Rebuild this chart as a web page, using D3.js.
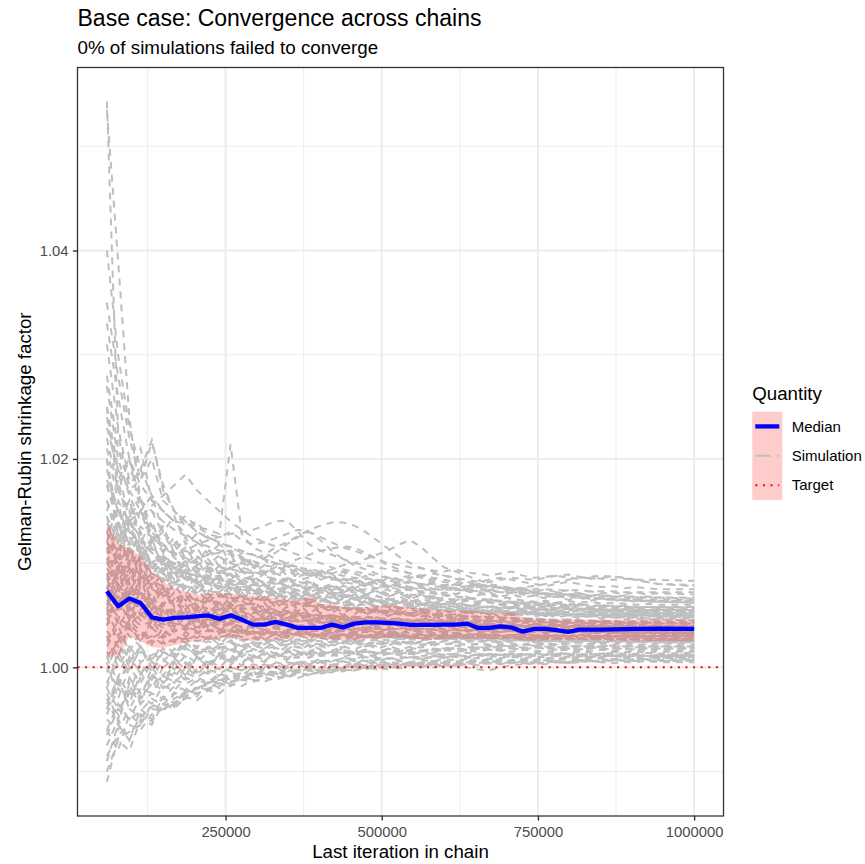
<!DOCTYPE html>
<html>
<head>
<meta charset="utf-8">
<title>Base case: Convergence across chains</title>
<script src="https://cdn.jsdelivr.net/npm/d3@7"></script>
<style>
  body { margin: 0; background: #fff; }
  svg text { font-family: "Liberation Sans", Arial, Helvetica, sans-serif; }
</style>
</head>
<body>
<script>
// last iteration of each bin
const iterations = [60000, 78000, 96000, 114000, 132000, 150000, 168000, 186000, 204000, 222000,
  240000, 258000, 276000, 294000, 312000, 330000, 348000, 366000, 384000, 402000,
  420000, 438000, 456000, 474000, 492000, 510000, 528000, 546000, 564000, 582000,
  600000, 618000, 636000, 654000, 672000, 690000, 708000, 726000, 744000, 762000,
  780000, 798000, 816000, 834000, 852000, 870000, 888000, 906000, 924000, 942000, 1000000];

const medianValues = [1.00730, 1.00586, 1.00660, 1.00618, 1.00480, 1.00458, 1.00474, 1.00480, 1.00490, 1.00499,
  1.00465, 1.00499, 1.00458, 1.00410, 1.00410, 1.00436, 1.00410, 1.00378, 1.00378, 1.00378,
  1.00410, 1.00384, 1.00420, 1.00432, 1.00432, 1.00426, 1.00420, 1.00407, 1.00407, 1.00407,
  1.00410, 1.00410, 1.00420, 1.00378, 1.00378, 1.00394, 1.00381, 1.00343, 1.00369, 1.00369,
  1.00357, 1.00340, 1.00362, 1.00362, 1.00362, 1.00364, 1.00367, 1.00369, 1.00370, 1.00372, 1.00369];

const bandLower = [1.00117, 1.00090, 1.00298, 1.00250, 1.00194, 1.00186, 1.00213, 1.00237, 1.00252, 1.00266,
  1.00280, 1.00295, 1.00266, 1.00250, 1.00261, 1.00266, 1.00276, 1.00290, 1.00285, 1.00271,
  1.00266, 1.00266, 1.00261, 1.00271, 1.00276, 1.00280, 1.00290, 1.00276, 1.00266, 1.00269,
  1.00271, 1.00276, 1.00276, 1.00276, 1.00273, 1.00273, 1.00271, 1.00261, 1.00256, 1.00261,
  1.00266, 1.00266, 1.00266, 1.00261, 1.00261, 1.00256, 1.00256, 1.00256, 1.00252, 1.00252, 1.00250];

const bandUpper = [1.01394, 1.01194, 1.01139, 1.01072, 1.00919, 1.00823, 1.00756, 1.00727, 1.00693, 1.00708,
  1.00712, 1.00708, 1.00693, 1.00684, 1.00682, 1.00669, 1.00650, 1.00631, 1.00693, 1.00612,
  1.00602, 1.00583, 1.00573, 1.00578, 1.00586, 1.00597, 1.00592, 1.00570, 1.00564, 1.00554,
  1.00544, 1.00538, 1.00547, 1.00535, 1.00520, 1.00520, 1.00528, 1.00482, 1.00468, 1.00463,
  1.00458, 1.00458, 1.00458, 1.00458, 1.00458, 1.00458, 1.00458, 1.00458, 1.00458, 1.00458, 1.00458];

// simulated chains: shrinkage factor minus 1, in units of 1e-4
const sim01 = [543,224,170,150,128,110,96,88,80,74, 70,66,62,60,58,55,54,52,50,49, 50,48,46,47,45,44,46,45,44,43, 44,43,42,41,42,41,40,41,40,39, 40,39,40,39,38,39,38,38,39,38,38];
const sim02 = [535,390,240,160,135,118,105,98,92,88, 84,80,78,74,72,70,66,64,62,60, 58,57,55,54,53,52,51,50,49,50, 49,48,49,48,47,46,47,46,45,46, 45,44,45,44,44,43,44,43,43,44,43];
const sim03 = [400,300,230,190,218,170,150,135,140,125, 118,110,104,98,92,90,86,82,80,78, 76,74,72,70,68,66,64,65,63,62, 60,61,59,58,57,58,56,55,56,55, 54,55,54,53,54,53,52,53,52,52,52];
const sim04 = [330,260,200,175,160,150,140,145,135,128, 125,130,122,118,120,124,128,132,130,125, 120,115,112,108,104,100,98,96,95,93, 92,94,91,90,88,90,92,88,86,87, 88,86,85,86,85,84,85,84,84,84,83];
const sim05 = [280,210,175,190,165,150,140,138,135,132, 128,214,128,115,110,104,100,96,92,90, 86,84,82,80,78,77,75,74,72,71, 70,68,67,66,65,64,63,62,62,61, 60,60,59,58,58,57,57,56,56,55,55];
const sim06 = [250,190,170,180,216,175,150,140,130,125, 120,115,110,108,104,100,97,94,90,88, 85,82,80,78,76,74,72,70,69,67, 66,65,64,63,62,61,60,59,58,58, 57,56,56,55,55,54,54,53,53,52,52];
const sim07 = [220,170,150,145,155,165,175,185,170,160, 150,140,132,125,120,116,112,108,104,100, 96,92,90,86,83,80,78,75,73,71, 69,68,66,65,64,63,62,61,60,59, 58,58,57,56,56,55,55,54,54,54,53];
const sim08 = [190,150,130,120,110,105,100,98,95,93, 92,95,100,104,108,115,120,126,132,136, 139,139,136,130,122,114,106,100,95,92, 88,85,82,80,78,76,74,72,71,70, 69,68,67,66,66,65,64,64,63,63,62];
const sim09 = [175,140,120,135,125,115,108,112,118,122, 125,128,130,132,136,140,141,130,118,112, 108,104,100,98,96,94,92,90,88,86, 84,82,80,79,78,76,75,74,72,71, 70,70,69,68,68,67,67,66,66,65,65];
const sim10 = [160,130,115,105,100,95,92,90,88,86, 84,82,80,79,78,80,82,84,86,90, 94,98,100,104,108,112,118,122,115,105, 96,92,88,84,80,78,76,74,72,71, 70,69,68,67,66,66,65,65,64,64,64];
const sim11 = [145,120,135,115,100,108,95,90,98,94, 90,95,100,96,105,110,118,125,130,122, 112,104,98,94,90,86,84,82,80,78, 77,76,78,80,82,84,86,85,84,86, 88,89,87,85,86,87,86,84,82,80,79];
const sim12 = [210,160,140,150,130,118,110,105,100,96, 92,88,86,84,82,80,78,79,77,76, 75,76,74,75,76,78,77,76,75,74, 75,76,75,77,78,76,75,77,78,80, 82,84,86,87,88,87,86,84,82,80,78];
const sim13 = [138,128,120,112,100,92,90,85,82,80, 78,76,75,72,70,69,68,66,65,64, 62,61,60,60,59,58,57,57,56,55, 55,54,54,53,53,52,52,51,51,50, 50,50,49,49,49,48,48,48,47,47,47];
const sim14 = [130,150,125,110,118,100,95,102,90,86, 88,84,80,82,78,75,77,73,70,72, 70,68,66,67,65,63,64,62,61,60, 61,59,58,59,57,56,57,55,54,55, 54,53,54,53,52,52,51,52,51,51,50];
const sim15 = [120,105,140,125,110,102,96,92,88,92, 86,82,84,80,76,74,72,74,76,72, 70,68,67,65,64,63,62,61,60,62, 63,62,60,59,58,57,58,57,56,55, 55,56,55,54,55,54,53,54,53,53,53];
const sim16 = [115,100,95,105,90,85,80,78,75,73, 72,70,68,66,65,64,63,62,60,59, 58,57,56,55,54,54,53,52,52,51, 50,50,49,49,48,48,47,47,47,46, 46,46,45,45,45,44,44,44,44,43,43];
const sim17 = [110,130,100,88,82,78,82,76,72,70, 68,67,65,66,64,62,60,61,59,58, 57,58,56,55,56,54,53,52,53,51, 50,51,49,48,49,47,48,46,47,46, 45,46,45,44,45,44,43,44,43,43,42];
const sim18 = [100,85,110,95,75,70,66,70,64,62, 60,58,60,56,55,54,52,53,51,50, 50,49,48,49,47,46,47,45,46,45, 44,45,44,43,44,43,42,43,42,41, 42,41,41,40,41,40,40,39,40,39,39];
const sim19 = [95,80,90,70,65,72,60,58,62,56, 55,57,53,52,54,50,49,51,48,47, 48,46,47,45,44,46,44,43,44,42, 43,42,41,42,41,40,41,40,39,40, 39,39,38,39,38,38,37,38,37,37,37];
const sim20 = [85,60,75,68,58,54,56,52,50,53, 50,48,49,47,46,48,45,44,45,43, 42,43,42,41,40,41,40,39,40,39, 38,39,38,37,38,37,36,37,36,36, 35,36,35,35,34,35,34,34,34,33,33];
const sim21 = [78,55,70,50,45,48,42,40,44,41, 40,42,39,38,40,37,36,38,36,35, 36,35,34,35,34,33,34,33,32,33, 32,33,32,31,32,31,31,30,31,30, 30,31,30,30,29,30,29,29,29,28,28];
const sim22 = [75,90,65,60,52,50,46,48,45,46, 44,45,43,44,42,41,42,40,41,40, 39,40,39,38,39,38,37,38,37,36, 37,36,36,35,36,35,35,34,35,34, 34,34,33,34,33,33,33,32,33,32,32];
const sim23 = [72,40,55,62,50,40,45,38,36,40, 37,35,36,34,33,35,32,31,33,31, 30,31,30,29,30,29,28,29,28,28, 27,28,27,27,26,27,26,26,25,26, 25,25,26,25,25,24,25,24,24,24,24];
const sim24 = [70,62,80,58,62,52,55,50,52,48, 50,47,48,46,47,45,46,44,45,43, 44,42,43,42,41,42,41,40,41,40, 40,39,40,39,38,39,38,38,37,38, 37,37,38,37,36,37,36,36,36,36,36];
const sim25 = [65,48,40,52,38,42,35,38,34,36, 33,35,32,34,31,33,30,32,31,30, 31,29,30,29,28,29,28,29,28,27, 28,27,27,28,27,26,27,26,26,27, 26,26,25,26,25,26,25,25,25,24,24];
const sim26 = [60,75,58,45,55,48,44,50,42,46, 43,41,44,40,42,39,41,40,38,39, 38,39,37,38,37,36,37,36,37,36, 35,36,35,36,35,34,35,34,35,34, 34,33,34,33,34,33,33,33,32,33,32];
const sim27 = [55,30,45,35,28,34,30,26,31,28, 27,29,26,28,25,27,26,24,26,25, 24,25,24,23,24,23,24,23,22,23, 22,23,22,22,21,22,21,22,21,21, 21,20,21,20,21,20,20,20,19,20,19];
const sim28 = [45,58,50,40,44,38,40,36,39,35, 37,34,36,33,35,32,34,33,31,33, 32,31,32,30,31,30,31,30,29,30, 29,30,29,29,28,29,28,28,29,28, 28,27,28,27,27,28,27,27,26,27,26];
const sim29 = [35,20,38,25,30,22,27,24,20,25, 22,24,21,23,24,26,25,27,26,28, 27,29,28,30,29,31,30,29,31,30, 31,30,31,32,31,30,31,32,31,30, 31,30,31,30,31,31,30,31,30,30,31];
const sim30 = [25,45,30,20,26,30,24,28,25,27, 29,31,30,33,32,34,33,35,34,36, 35,37,36,35,37,36,38,37,36,37, 36,37,36,35,36,35,36,35,36,35, 35,36,35,35,36,35,35,35,34,35,35];
const sim31 = [15,-10,20,5,12,15,10,18,14,16, 13,17,14,16,15,13,16,14,15,13, 15,14,13,15,14,13,14,13,14,13, 12,13,14,13,12,13,12,13,12,12, 13,12,12,11,12,12,11,12,11,11,11];
const sim32 = [10,25,0,15,8,18,12,20,15,18, 20,17,19,21,18,20,22,19,21,20, 24,25,26,25,27,26,28,27,26,27, 28,27,28,27,28,27,28,27,28,27, 27,28,27,27,28,27,27,27,28,27,27];
const sim33 = [0,-20,10,-5,5,0,8,2,10,5, 8,12,6,10,8,12,10,9,13,11, 12,10,13,11,12,14,12,13,11,12, 13,12,11,12,13,12,11,12,13,12, 12,13,12,12,13,12,12,12,11,12,12];
const sim34 = [-15,10,-10,-25,-8,-15,-5,-12,-2,-6, 0,-4,2,-2,3,0,5,2,6,4, 7,5,8,6,9,8,10,9,8,10, 11,10,9,11,12,11,10,12,11,12, 13,12,13,12,13,14,13,13,14,13,14];
const sim35 = [-30,-45,-20,-35,-25,-30,-18,-22,-12,-16, -8,-12,-5,-8,-2,-5,0,-3,2,0, 3,1,4,2,5,4,6,5,7,6, 8,7,8,9,8,9,10,9,10,10, 11,10,11,10,11,11,10,11,11,10,11];
const sim36 = [-40,-15,-30,-10,-18,-8,-14,-5,-10,-2, -6,0,-3,2,-1,4,1,5,3,6, 6,9,8,11,10,13,12,14,16,15, 17,18,17,19,20,21,20,22,21,23, 22,23,24,23,24,25,24,25,25,26,25];
const sim37 = [-50,-60,-40,-48,-38,-30,-34,-25,-20,-15, -12,-14,-10,-6,-8,-4,-6,-2,0,-3, 1,-1,2,0,3,2,4,3,5,4, 6,5,7,6,8,7,6,8,7,9, 8,9,10,9,10,11,10,11,12,11,12];
const sim38 = [-60,-35,-50,-42,-30,-36,-24,-28,-20,-22, -15,-18,-12,-14,-10,-12,-8,-5,-7,-4, -2,-4,0,-2,1,3,2,4,3,5, 4,6,5,7,6,5,7,8,7,9, 8,10,9,10,9,11,10,10,11,10,11];
const sim39 = [-85,-65,-55,-60,-45,-40,-35,-30,-25,-20, -18,-14,-12,-10,-8,-6,-8,-5,-3,-6, -4,-2,-3,0,-2,1,-1,2,0,3, 2,1,3,2,4,3,5,4,3,5, 6,5,7,6,7,8,7,8,8,9,9];
const sim40 = [-110,-68,-62,-55,-40,-42,-30,-24,-20,-15, -12,-10,-8,-5,-6,-6,-8,-10,-7,-4, -2,0,1,2,1,3,2,4,3,2, 1,2,0,-2,-3,0,2,3,4,3, 5,4,6,5,7,6,7,6,8,7,8];
const sim41 = [-75,-50,-70,-45,-52,-35,-40,-28,-32,-22, -25,-16,-18,-12,-14,-9,-10,-6,-8,-4, -5,-2,-3,-1,0,-1,1,2,1,3, 2,4,3,5,4,6,5,7,6,6, 7,8,7,8,9,8,9,9,10,9,10];
const sim42 = [-20,-40,-25,-30,-15,-22,-12,-16,-10,-14, -6,-10,-4,-8,-3,-6,-1,-4,-2,0, -3,1,-1,2,0,-2,1,3,2,0, 3,1,4,2,5,3,4,6,5,4, 6,5,7,6,5,7,6,8,7,6,7];
const sim43 = [180,150,160,128,140,112,118,100,108,95, 98,88,92,84,90,80,84,78,82,74, 78,72,75,70,73,68,71,66,69,64, 67,63,66,62,64,60,63,59,62,58, 61,58,60,57,59,57,58,56,58,57,58];
const sim44 = [120,160,110,130,96,105,88,95,80,86, 76,82,72,78,70,74,66,70,64,68, 62,66,60,63,58,61,56,59,55,57, 53,56,52,54,51,53,50,52,49,51, 48,50,47,49,47,48,46,47,46,46,45];
const sim45 = [60,95,80,110,90,100,84,92,80,88, 76,84,74,80,72,78,70,75,68,72, 66,70,65,68,63,66,62,64,61,63, 60,62,59,61,58,60,57,59,56,58, 56,57,55,57,55,56,54,55,54,55,54];
const sim46 = [30,10,40,25,45,30,50,38,48,40, 52,42,50,44,48,42,46,43,47,42, 45,41,44,42,45,41,43,40,42,41, 43,40,42,39,41,40,42,39,41,40, 41,39,40,41,39,40,41,40,39,40,40];
const sim47 = [-5,30,5,20,0,15,8,22,10,20, 14,24,16,22,18,25,17,23,19,24, 20,25,21,23,20,24,22,25,21,23, 22,24,21,23,22,24,23,22,24,23, 22,23,24,22,23,22,23,22,22,23,22];
const sim48 = [200,120,150,105,125,90,110,82,96,78, 88,74,84,70,80,68,76,66,72,64, 70,62,67,60,64,58,62,57,60,56, 58,55,57,54,56,53,55,52,54,51, 53,50,52,50,51,49,50,49,50,48,48];
const sim49 = [90,70,100,75,85,68,80,64,76,62, 72,60,70,62,74,66,78,70,82,74, 80,72,76,70,74,68,72,66,70,68, 72,70,74,72,70,68,66,64,62,64, 62,64,62,63,61,62,61,60,61,60,60];
const sim50 = [-45,-20,-35,-5,-20,0,-10,5,-5,8, 0,10,4,12,6,14,8,15,10,16, 12,17,13,16,14,18,15,17,16,18, 17,19,16,18,17,19,18,17,19,18, 18,19,17,18,19,18,18,17,18,18,18];
const sim51 = [150,180,130,150,120,135,110,125,100,115, 96,108,92,104,90,100,88,96,86,94, 84,92,82,88,80,86,78,84,78,82, 76,80,75,79,74,77,73,76,72,75, 72,74,71,73,71,72,70,72,70,71,70];
const sim52 = [10,-15,5,20,-5,15,10,25,12,20, 18,26,20,24,22,28,21,26,24,29, 25,28,24,27,26,30,27,29,26,28, 29,27,30,28,29,27,30,29,28,30, 29,30,28,29,30,29,30,29,30,30,30];
const sim53 = [250,170,200,150,165,130,145,118,128,108, 118,100,110,94,104,90,98,86,94,84, 90,80,86,78,84,76,80,74,78,72, 76,70,74,69,72,68,70,67,69,66, 68,65,67,64,66,64,65,63,64,63,62];
const sim54 = [40,70,45,65,50,62,48,60,46,58, 50,56,48,55,46,54,47,52,45,50, 46,51,44,49,45,48,43,47,44,46, 44,47,43,46,44,45,43,45,44,43, 44,43,42,43,44,42,43,42,43,42,42];
const sim55 = [-25,-50,-10,-30,0,-15,5,-8,10,-2, 12,2,14,5,15,8,16,10,17,12, 15,18,14,17,13,18,15,19,16,18, 17,19,16,18,17,16,18,17,19,18, 17,18,17,19,18,17,18,17,18,18,18];
const sim56 = [105,75,95,65,80,60,72,56,66,52, 62,50,58,48,56,46,52,45,50,44, 48,42,46,41,45,40,44,39,42,38, 41,38,40,37,39,37,38,36,38,36, 37,35,36,35,36,35,35,34,35,34,34];
const sim57 = [310,230,180,210,160,150,140,128,120,112, 106,100,96,92,88,84,82,78,76,74, 72,70,68,66,65,63,62,60,60,58, 57,56,56,55,54,54,53,53,52,52, 52,51,51,51,50,50,50,50,50,50,50];
const sim58 = [68,95,60,85,55,78,52,70,50,65, 48,62,46,58,45,55,44,52,42,50, 41,48,42,46,40,45,41,44,39,43, 40,42,39,41,38,41,39,40,38,40, 39,38,40,38,39,38,39,38,38,38,38];
const sim59 = [-60,-80,-45,-55,-35,-42,-25,-30,-18,-22, -12,-16,-8,-12,-5,-9,-2,-6,0,-4, 1,-2,2,0,3,1,4,2,3,5, 4,3,5,4,6,5,4,6,5,7, 6,5,7,6,5,7,6,6,7,6,6];
const sim60 = [130,110,145,100,122,95,110,90,104,86, 98,84,94,82,90,80,86,78,84,76, 80,74,78,72,76,70,74,68,72,66, 70,64,68,63,66,62,64,61,63,60, 62,59,61,58,60,58,59,57,58,57,56];
const sim61 = [20,40,15,35,22,38,25,34,28,36, 26,33,29,35,27,32,28,34,26,31, 28,32,27,30,28,31,26,29,28,30, 27,29,28,27,29,28,26,28,27,29, 27,28,26,27,28,27,26,27,26,27,26];
const sim62 = [230,190,140,165,120,130,108,115,98,104, 90,96,84,88,80,84,76,80,72,76, 70,72,67,69,64,66,62,64,60,61, 58,59,56,57,54,55,53,54,51,52, 50,51,49,50,48,49,47,48,47,46,46];
const sim63 = [48,25,42,30,38,28,36,30,34,28, 36,30,34,32,35,30,33,31,34,30, 33,31,32,30,33,31,32,30,31,32, 30,31,32,30,31,30,31,32,30,31, 30,31,30,31,30,30,31,30,30,31,30];
const sim64 = [-90,-55,-70,-40,-50,-28,-38,-20,-28,-14, -20,-8,-14,-4,-9,0,-5,3,-2,5, 1,6,3,8,5,9,7,10,8,11, 9,12,10,13,11,12,13,12,14,13, 14,13,15,14,13,15,14,15,14,15,15];
const sim65 = [175,135,160,120,140,110,125,104,115,98, 108,94,102,90,98,88,94,86,92,84, 88,82,86,80,84,78,82,76,80,75, 78,74,76,73,75,72,74,71,73,70, 72,70,71,69,70,68,69,67,68,67,66];
const sim66 = [85,115,80,100,76,92,72,86,70,82, 68,78,66,74,64,72,63,70,62,68, 60,66,59,64,58,62,57,60,56,59, 55,58,54,56,53,55,52,54,52,53, 51,52,50,51,50,51,49,50,49,49,48];
const sim67 = [5,-30,0,-15,5,-8,8,-2,10,2, 12,5,13,7,14,9,15,10,14,12, 15,13,16,14,15,13,17,15,16,14, 17,15,16,15,17,16,15,17,16,15, 16,17,15,16,17,16,15,16,16,17,16];
const sim68 = [145,95,120,80,105,75,92,70,84,66, 78,62,72,60,68,58,64,56,62,54, 60,52,58,50,56,49,54,48,52,47, 50,46,49,45,48,44,47,44,46,43, 45,42,44,42,43,41,42,41,41,40,40];
const sim69 = [270,200,165,140,150,128,120,112,106,100, 96,94,92,90,92,96,100,104,108,112, 114,116,115,110,104,98,94,90,86,82, 78,76,73,71,69,67,66,64,63,62, 61,61,60,60,59,59,59,58,58,58,58];
const sim70 = [-35,-10,-40,-20,-25,-8,-15,0,-8,5, -2,8,2,10,5,12,7,13,9,14, 11,15,12,16,13,17,14,16,15,17, 16,18,17,19,18,17,19,18,20,19, 18,20,19,21,20,19,20,21,20,21,20];
const sim71 = [115,80,65,75,55,60,48,52,44,47, 40,43,38,41,36,39,35,37,34,36, 33,35,32,34,31,33,30,32,30,31, 29,31,29,30,28,30,29,28,29,28, 28,29,28,28,27,28,28,27,28,28,28];
const sim72 = [350,280,220,180,200,160,150,140,130,124, 120,116,112,108,104,100,98,96,94,92, 90,88,86,85,84,83,82,81,80,80, 79,79,78,78,77,77,76,76,75,75, 74,74,74,73,73,73,72,72,72,72,72];
const sim73 = [90,60,75,50,62,44,56,40,50,38, 48,36,46,38,50,40,47,36,44,38, 46,40,44,37,43,39,45,38,42,40, 44,38,42,39,43,37,41,39,42,38, 41,39,40,38,41,39,40,38,40,39,39];
const sim74 = [40,80,55,90,60,78,58,70,54,66, 60,52,64,56,62,50,58,54,60,52, 56,50,58,52,55,49,56,51,54,50, 55,49,53,51,54,48,52,50,53,49, 51,50,52,49,51,50,49,51,50,49,50];
const sim75 = [-20,15,-5,20,5,25,12,28,18,30, 22,32,24,30,26,33,25,31,27,34, 26,32,28,31,27,33,29,30,28,32, 29,31,28,30,29,32,28,30,29,31, 30,29,31,30,29,30,31,29,30,30,30];
const sim76 = [160,120,140,105,115,92,100,85,92,80, 86,76,82,74,80,72,77,70,75,68, 72,67,70,66,69,64,68,63,66,62, 65,61,64,60,63,60,62,59,61,58, 60,59,60,58,59,58,59,57,58,58,57];
const sim77 = [70,45,85,55,72,48,66,50,60,46, 58,48,55,44,53,47,52,45,51,44, 50,46,49,44,48,45,47,43,48,44, 46,44,47,43,46,44,45,43,46,44, 45,44,45,43,44,45,43,44,44,43,44];
const sim78 = [-40,-10,-25,5,-12,8,-2,12,4,15, 8,17,10,18,12,19,14,20,15,21, 16,20,17,22,18,21,17,20,19,22, 18,21,19,20,18,21,20,19,21,20, 19,20,21,19,20,21,20,19,20,20,20];
const sim79 = [240,180,200,160,150,140,132,126,120,116, 112,108,104,102,98,96,94,92,90,88, 86,85,83,82,80,79,78,77,76,75, 75,74,74,73,73,72,72,71,71,70, 70,70,69,69,69,68,68,68,67,67,67];
const sim80 = [55,100,45,75,40,60,38,55,36,50, 34,46,33,44,32,42,31,41,33,40, 32,39,34,38,33,37,32,38,34,37, 33,36,34,37,33,36,35,34,36,35, 34,35,36,34,35,34,35,36,35,34,35];
const sim81 = [130,95,115,85,100,80,92,76,86,72, 82,70,78,68,75,66,73,64,70,63, 68,62,66,61,65,60,63,59,62,58, 61,58,60,57,59,57,58,56,58,56, 57,56,57,55,56,55,56,55,55,55,55];
const sim82 = [30,0,20,-8,15,5,18,10,20,14, 22,16,24,18,25,20,26,21,24,22, 25,23,26,22,25,24,26,23,25,24, 26,25,24,26,25,24,25,26,24,25, 25,24,26,25,24,25,25,24,25,25,25];
const sim83 = [120,100,90,105,85,95,80,88,76,84, 74,80,72,78,70,76,70,74,72,76, 74,78,76,80,82,84,86,88,86,84, 82,80,78,76,74,72,71,70,69,68, 68,67,67,66,66,65,65,65,64,64,64];
const sim84 = [200,140,110,125,95,90,80,76,70,66, 62,60,57,55,53,52,50,49,48,47, 46,45,45,44,44,43,43,42,42,42, 41,41,41,40,40,40,40,39,39,39, 39,39,38,38,38,38,38,38,38,37,37];
const sim85 = [-65,-40,-50,-28,-35,-18,-22,-10,-14,-4, -8,0,-3,3,0,5,2,6,4,8, 5,9,6,10,7,9,8,11,9,10, 9,11,10,12,10,11,12,10,11,12, 11,12,11,12,12,11,12,12,11,12,12];
const sim86 = [100,130,95,115,88,102,80,94,76,88, 72,82,68,76,66,72,64,70,62,66, 60,64,58,62,57,60,56,58,55,57, 54,56,53,55,52,54,52,53,51,52, 51,52,50,51,50,50,49,50,49,49,49];
const sim87 = [50,70,40,62,36,55,34,50,33,46, 32,44,31,42,32,40,33,39,31,38, 33,37,32,36,33,35,32,36,33,35, 34,33,35,34,33,34,35,33,34,33, 34,33,34,33,33,34,33,33,34,33,33];
const sim88 = [110,140,100,120,94,106,90,98,86,94, 84,90,82,88,80,86,84,90,88,92, 90,94,92,90,88,86,84,86,88,90, 88,86,84,82,84,86,84,82,80,78, 80,82,80,78,77,78,76,77,76,75,75];
const sim89 = [-30,-55,-15,-35,-5,-20,5,-8,10,0, 14,6,16,10,18,13,20,15,22,17, 22,19,24,20,23,21,25,22,24,23, 25,24,26,25,24,26,25,27,26,25, 26,27,26,27,26,27,27,26,27,27,27];
const sim90 = [75,110,70,95,62,85,58,78,56,72, 55,68,54,65,53,63,52,62,51,60, 52,59,51,58,52,57,51,56,52,55, 51,55,52,54,51,54,52,53,51,53, 52,53,51,52,53,52,51,52,52,51,52];
const sim91 = [-100,-70,-80,-50,-55,-35,-38,-22,-25,-12, -15,-5,-8,0,-3,2,-1,4,1,5, 2,6,3,5,4,6,3,5,4,6, 5,4,6,5,4,6,5,4,5,6, 5,4,5,6,5,4,5,5,6,5,5];
const sim92 = [105,85,95,80,90,85,92,98,104,108, 110,112,106,98,90,84,78,74,70,66, 62,60,58,56,54,52,51,50,49,48, 47,47,46,46,45,45,44,44,44,43, 43,43,43,42,42,42,42,42,42,42,42];

const simulations = [sim01, sim02, sim03, sim04, sim05, sim06, sim07, sim08, sim09, sim10,
  sim11, sim12, sim13, sim14, sim15, sim16, sim17, sim18, sim19, sim20,
  sim21, sim22, sim23, sim24, sim25, sim26, sim27, sim28, sim29, sim30,
  sim31, sim32, sim33, sim34, sim35, sim36, sim37, sim38, sim39, sim40,
  sim41, sim42, sim43, sim44, sim45, sim46, sim47, sim48, sim49, sim50,
  sim51, sim52, sim53, sim54, sim55, sim56, sim57, sim58, sim59, sim60,
  sim61, sim62, sim63, sim64, sim65, sim66, sim67, sim68, sim69, sim70,
  sim71, sim72, sim73, sim74, sim75, sim76, sim77, sim78, sim79, sim80,
  sim81, sim82, sim83, sim84, sim85, sim86, sim87, sim88, sim89, sim90, sim91, sim92];

const targetValue = 1;
const xTicks = [250000, 500000, 750000, 1000000];
const xMinorTicks = [125000, 375000, 625000, 875000];
const yTicks = [1.00, 1.02, 1.04];
const yMinorTicks = [0.99, 1.01, 1.03, 1.05];
const legendLabels = ["Median", "Simulation", "Target"];

// ---------------------------------------------------------------
var width = 865, height = 864;
var margin = {top: 67.5, right: 141.5, bottom: 48, left: 77.5};
var pw = width - margin.left - margin.right;
var ph = height - margin.top - margin.bottom;

var simSeries = simulations.map(function(s) {
  return s.map(function(v, i) { return {x: iterations[i], y: 1 + v / 10000}; });
});

// ggplot style 5% expansion
function expand(ext) {
  var d = ext[1] - ext[0];
  return [ext[0] - d * 0.05, ext[1] + d * 0.05];
}
var allY = [];
simSeries.forEach(function(s) { s.forEach(function(p) { allY.push(p.y); }); });
allY = allY.concat(medianValues, bandLower, bandUpper, [targetValue]);

var x = d3.scaleLinear().domain(expand(d3.extent(iterations))).range([0, pw]);
var y = d3.scaleLinear().domain(expand(d3.extent(allY))).range([ph, 0]);

var svg = d3.select("body").append("svg")
  .attr("width", width)
  .attr("height", height)
  .style("background", "#fff");

var g = svg.append("g").attr("transform", "translate(" + margin.left + "," + margin.top + ")");

// grid
g.selectAll(".xminor").data(xMinorTicks).enter().append("line")
  .attr("x1", d => x(d)).attr("x2", d => x(d)).attr("y1", 0).attr("y2", ph)
  .attr("stroke", "#ebebeb").attr("stroke-width", 0.9);
g.selectAll(".yminor").data(yMinorTicks).enter().append("line")
  .attr("x1", 0).attr("x2", pw).attr("y1", d => y(d)).attr("y2", d => y(d))
  .attr("stroke", "#ebebeb").attr("stroke-width", 0.9);
g.selectAll(".xmajor").data(xTicks).enter().append("line")
  .attr("x1", d => x(d)).attr("x2", d => x(d)).attr("y1", 0).attr("y2", ph)
  .attr("stroke", "#ebebeb").attr("stroke-width", 1.8);
g.selectAll(".ymajor").data(yTicks).enter().append("line")
  .attr("x1", 0).attr("x2", pw).attr("y1", d => y(d)).attr("y2", d => y(d))
  .attr("stroke", "#ebebeb").attr("stroke-width", 1.8);

// simulation lines
var line = d3.line().x(d => x(d.x)).y(d => y(d.y));
g.selectAll(".sim").data(simSeries).enter().append("path")
  .attr("d", line)
  .attr("fill", "none")
  .attr("stroke", "#bebebe")
  .attr("stroke-width", 2)
  .attr("stroke-dasharray", "7,6");

// quantile band
var area = d3.area()
  .x((d, i) => x(iterations[i]))
  .y0((d, i) => y(bandLower[i]))
  .y1((d, i) => y(bandUpper[i]));
g.append("path").datum(bandUpper)
  .attr("d", area)
  .attr("fill", "red")
  .attr("fill-opacity", 0.2);

// median
var medLine = d3.line().x((d, i) => x(iterations[i])).y(d => y(d));
g.append("path").datum(medianValues)
  .attr("d", medLine)
  .attr("fill", "none")
  .attr("stroke", "blue")
  .attr("stroke-width", 4.3)
  .attr("stroke-linejoin", "round");

// target
g.append("line")
  .attr("x1", 0).attr("x2", pw)
  .attr("y1", y(targetValue)).attr("y2", y(targetValue))
  .attr("stroke", "red")
  .attr("stroke-width", 2)
  .attr("stroke-dasharray", "2,5.6");

// panel border
g.append("rect")
  .attr("width", pw).attr("height", ph)
  .attr("fill", "none")
  .attr("stroke", "#333333")
  .attr("stroke-width", 1.3);

// axes
var xAxis = g.append("g").attr("transform", "translate(0," + ph + ")")
  .call(d3.axisBottom(x).tickValues(xTicks).tickFormat(d3.format("d")).tickSize(4.6).tickPadding(5.4));
var yAxis = g.append("g")
  .call(d3.axisLeft(y).tickValues(yTicks).tickFormat(d3.format(".2f")).tickSize(4.6).tickPadding(4.4));
[xAxis, yAxis].forEach(function(a) {
  a.select(".domain").remove();
  a.selectAll(".tick line").attr("stroke", "#333333").attr("stroke-width", 1.4);
  a.selectAll(".tick text")
    .attr("fill", "#4d4d4d")
    .style("font-size", "14.8px")
    .style("font-family", "'Liberation Sans', Arial, Helvetica, sans-serif");
});

// titles
svg.append("text")
  .attr("x", 77.5).attr("y", 26)
  .style("font-size", "23px")
  .attr("fill", "#000")
  .text("Base case: Convergence across chains");
svg.append("text")
  .attr("x", 77.5).attr("y", 53.5)
  .style("font-size", "18.8px")
  .attr("fill", "#000")
  .text("0% of simulations failed to converge");

svg.append("text")
  .attr("x", margin.left + pw / 2).attr("y", 858)
  .attr("text-anchor", "middle")
  .style("font-size", "18.7px")
  .text("Last iteration in chain");

svg.append("text")
  .attr("transform", "translate(30.5," + (margin.top + ph / 2) + ") rotate(-90)")
  .attr("text-anchor", "middle")
  .style("font-size", "18.7px")
  .text("Gelman-Rubin shrinkage factor");

// legend
var lg = svg.append("g").attr("transform", "translate(752.3,0)");
lg.append("text")
  .attr("x", 0).attr("y", 400)
  .style("font-size", "18.7px")
  .text("Quantity");

var keyTop = 411.7, keyH = 29.4, keyW = 30;
lg.append("rect")
  .attr("x", 0).attr("y", keyTop)
  .attr("width", keyW).attr("height", keyH * legendLabels.length)
  .attr("fill", "red").attr("fill-opacity", 0.2);

var keyStyles = [
  {stroke: "blue", width: 4.3, dash: null},
  {stroke: "#bebebe", width: 2, dash: "15,7"},
  {stroke: "red", width: 2, dash: "2,5.6"}
];
legendLabels.forEach(function(lab, i) {
  var cy = keyTop + keyH * (i + 0.5);
  var st = keyStyles[i];
  var ln = lg.append("line")
    .attr("x1", 3).attr("x2", keyW - 3)
    .attr("y1", cy).attr("y2", cy)
    .attr("stroke", st.stroke)
    .attr("stroke-width", st.width);
  if (st.dash) ln.attr("stroke-dasharray", st.dash);
  lg.append("text")
    .attr("x", 39.4).attr("y", cy + 5.2)
    .style("font-size", "15px")
    .text(lab);
});
</script>
</body>
</html>
